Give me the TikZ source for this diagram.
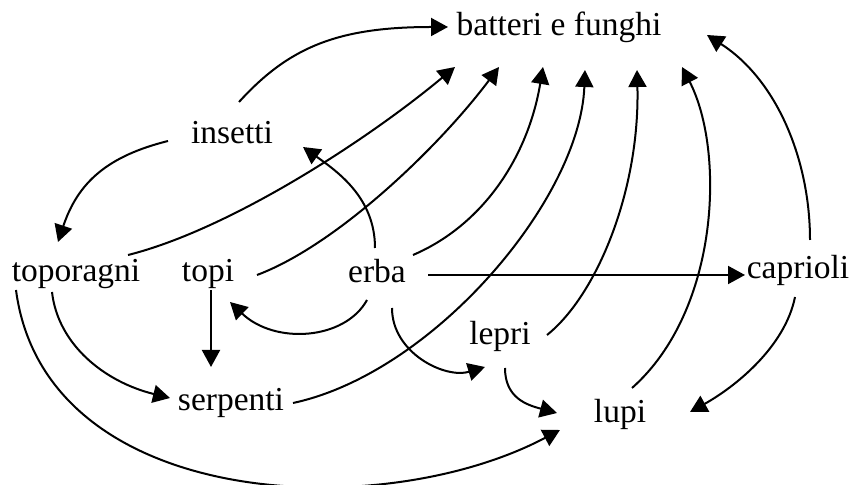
\documentclass[tikz,border=0pt]{standalone}
\usepackage{fontspec}
\setmainfont{Liberation Serif}
\usepackage{tikz}
\usetikzlibrary{arrows.meta}

\begin{document}
\begin{tikzpicture}[
  x=0.5pt, y=-0.5pt,
  font=\fontsize{16.75}{20}\selectfont,
  lbl/.style={anchor=base, inner sep=0pt},
  arr/.style={-{Triangle[length=8.5pt,width=9pt]}, line width=1pt}
]
\useasboundingbox (0,0) rectangle (851,485);

% the species
\node[lbl] (bf)    at (559,36)  {batteri e funghi};
\node[lbl] (ins)   at (232,144) {insetti};
\node[lbl] (topo)  at (76,282)  {toporagni};
\node[lbl] (topi)  at (208,282) {topi};
\node[lbl] (erba)  at (377,283) {erba};
\node[lbl] (capr)  at (798,279) {caprioli};
\node[lbl] (serp)  at (231,411) {serpenti};
\node[lbl] (lepri) at (500,345) {lepri};
\node[lbl] (lupi)  at (620,423) {lupi};

% who goes to the decomposers
\draw[arr] ([shift={(7,-42)}]ins.base)    .. controls +(50,-55) and +(-110,0) .. ([shift={(-111,-9)}]bf.base);
\draw[arr] ([shift={(52,-27)}]topo.base)  .. controls +(100,-25) and +(-90,75) .. ([shift={(-104,31)}]bf.base);
\draw[arr] ([shift={(49,-7)}]topi.base)   .. controls +(80,-30) and +(-60,80) .. ([shift={(-60,31)}]bf.base);
\draw[arr] ([shift={(36,-28)}]erba.base)  .. controls +(70,-30) and +(-15,90) .. ([shift={(-16,31)}]bf.base);
\draw[arr] ([shift={(62,-8)}]serp.base)   .. controls +(140,-30) and +(-5,130) .. ([shift={(26,34)}]bf.base);
\draw[arr] ([shift={(47,-10)}]lepri.base) .. controls +(50,-40) and +(3,120) .. ([shift={(78,34)}]bf.base);
\draw[arr] ([shift={(12,-35)}]lupi.base)  .. controls +(88,-78) and +(43,83) .. ([shift={(123,31)}]bf.base);
\draw[arr] ([shift={(12,-39)}]capr.base)  .. controls +(0,-80) and +(70,45) .. ([shift={(148,-1)}]bf.base);

% the food web
\draw[arr] ([shift={(-64,-3)}]ins.base)   .. controls +(-60,15) and +(20,-60) .. ([shift={(-18,-40)}]topo.base);
\draw[arr] ([shift={(-2,-35)}]erba.base)  .. controls +(0,-50) and +(35,25) .. ([shift={(71,3)}]ins.base);
\draw[arr] ([shift={(-10,17)}]erba.base)  .. controls +(-22,40) and +(45,43) .. ([shift={(22,20)}]topi.base);
\draw[arr] ([shift={(3,8)}]topi.base) -- ([shift={(-20,-44)}]serp.base);
\draw[arr] ([shift={(-24,10)}]topo.base)  .. controls +(6,53) and +(-65,-16) .. ([shift={(-61,-13)}]serp.base);
\draw[arr] ([shift={(-60,8)}]topo.base)   .. controls +(29,220) and +(-180,95) .. ([shift={(-60,7)}]lupi.base);
\draw[arr] ([shift={(51,-8)}]erba.base) -- ([shift={(-53,-4)}]capr.base);
\draw[arr] ([shift={(15,25)}]erba.base)   .. controls +(0,45) and +(-40,12) .. ([shift={(-15,22)}]lepri.base);
\draw[arr] ([shift={(5,23)}]lepri.base)   .. controls +(0,30) and +(-30,-8) .. ([shift={(-63,-10)}]lupi.base);
\draw[arr] ([shift={(-3,18)}]capr.base)   .. controls +(-10,50) and +(45,-25) .. ([shift={(70,-11)}]lupi.base);
\end{tikzpicture}
\end{document}
